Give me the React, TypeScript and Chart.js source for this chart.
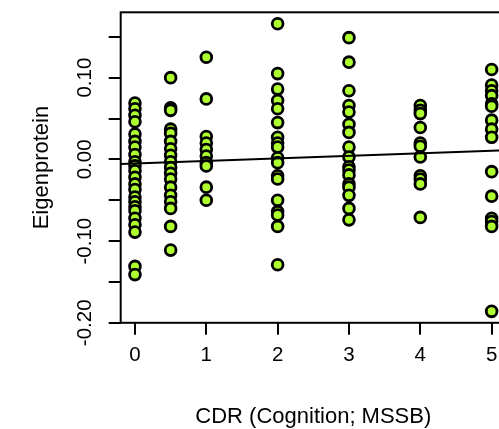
import { useEffect, useRef } from "react";
import { Chart, registerables } from "chart.js";

Chart.register(...registerables);

// CDR (Cognition; MSSB) levels
const cdrLevels = [0, 0.5, 1, 2, 3, 4, 5];

// Eigenprotein values per CDR level
const eigenCdr0 = [0.069, 0.062, 0.054, 0.046, 0.031, 0.022, 0.015, 0.006, -0.003, -0.008, -0.014, -0.022, -0.030, -0.037, -0.046, -0.052, -0.058, -0.063, -0.072, -0.080, -0.089, -0.131, -0.141];
const eigenCdr05 = [0.100, 0.063, 0.060, 0.037, 0.032, 0.022, 0.013, 0.005, -0.003, -0.010, -0.017, -0.024, -0.034, -0.044, -0.052, -0.060, -0.082, -0.111];
const eigenCdr1 = [0.125, 0.074, 0.028, 0.020, 0.012, 0.004, -0.004, -0.008, -0.034, -0.050];
const eigenCdr2 = [0.166, 0.105, 0.086, 0.072, 0.062, 0.045, 0.027, 0.020, 0.015, 0.002, -0.004, -0.020, -0.024, -0.050, -0.064, -0.068, -0.082, -0.129];
const eigenCdr3 = [0.149, 0.119, 0.084, 0.066, 0.058, 0.043, 0.033, 0.015, 0.003, -0.009, -0.013, -0.019, -0.030, -0.034, -0.044, -0.060, -0.074];
const eigenCdr4 = [0.066, 0.060, 0.056, 0.039, 0.020, 0.016, 0.003, -0.020, -0.024, -0.030, -0.071];
const eigenCdr5 = [0.110, 0.091, 0.084, 0.078, 0.068, 0.065, 0.048, 0.037, 0.027, -0.015, -0.045, -0.072, -0.076, -0.082, -0.186];

const eigenByLevel = [eigenCdr0, eigenCdr05, eigenCdr1, eigenCdr2, eigenCdr3, eigenCdr4, eigenCdr5];

// Fitted regression line (abline)
const fitIntercept = -0.005;
const fitSlope = 0.0031;

// Axis ranges and ticks
const xRange = [-0.2, 5.2];
const yRange = [-0.2, 0.18];
const xTickValues = [0, 1, 2, 3, 4, 5];
const xTickLabels = ["0", "1", "2", "3", "4", "5"];
const yTickValues = [-0.2, -0.15, -0.1, -0.05, 0, 0.05, 0.1, 0.15];
const yTickLabels = ["-0.20", "", "-0.10", "", "0.00", "", "0.10", ""];

const FONT = "'Liberation Sans', Arial, Helvetica, sans-serif";

const boxPlugin = {
  id: "rbox",
  afterDraw(chart: any) {
    const { ctx, chartArea } = chart;
    ctx.save();
    ctx.strokeStyle = "#000";
    ctx.lineWidth = 2;
    ctx.strokeRect(chartArea.left, chartArea.top, chartArea.right - chartArea.left, chartArea.bottom - chartArea.top);
    ctx.restore();
  },
};

export default function App() {
  const ref = useRef<HTMLCanvasElement | null>(null);

  useEffect(() => {
    if (!ref.current) return;
    const points: { x: number; y: number }[] = [];
    cdrLevels.forEach((lvl, i) => {
      eigenByLevel[i].forEach((v) => points.push({ x: lvl, y: v }));
    });
    const linePts = xRange.map((x) => ({ x, y: fitIntercept + fitSlope * x }));

    const chart = new Chart(ref.current, {
      type: "scatter",
      data: {
        datasets: [
          {
            type: "line",
            data: linePts,
            borderColor: "#000",
            borderWidth: 2,
            pointRadius: 0,
            showLine: true,
            fill: false,
          } as any,
          {
            data: points,
            pointRadius: 5.4,
            pointBorderWidth: 2.8,
            pointBackgroundColor: "#ADFF2F",
            pointBorderColor: "#000",
          },
        ],
      },
      plugins: [boxPlugin],
      options: {
        responsive: false,
        animation: false,
        devicePixelRatio: 1,
        layout: { padding: { left: 0, top: 10.8, right: 14.1, bottom: 0 } },
        plugins: { legend: { display: false }, tooltip: { enabled: false } },
        scales: {
          x: {
            type: "linear",
            min: xRange[0],
            max: xRange[1],
            afterFit: (s: any) => {
              s.height = 106.2;
            },
            afterBuildTicks: (s: any) => {
              s.ticks = xTickValues.map((v) => ({ value: v }));
            },
            grid: { display: true, drawOnChartArea: false, drawTicks: true, tickLength: 12, color: "#000", lineWidth: 2 },
            border: { display: false },
            ticks: {
              autoSkip: false,
              maxRotation: 0,
              minRotation: 0,
              padding: 8.7,
              color: "#000",
              font: { family: FONT, size: 20.5 },
              callback: (_v: any, i: number) => xTickLabels[i],
            },
            title: {
              display: true,
              text: "CDR (Cognition; MSSB)",
              color: "#000",
              font: { family: FONT, size: 22 },
              padding: { top: 0, bottom: -1 },
            },
          },
          y: {
            type: "linear",
            min: yRange[0],
            max: yRange[1],
            afterFit: (s: any) => {
              s.width = 120.7;
            },
            afterBuildTicks: (s: any) => {
              s.ticks = yTickValues.map((v) => ({ value: v }));
            },
            grid: { display: true, drawOnChartArea: false, drawTicks: true, tickLength: 12, color: "#000", lineWidth: 2 },
            border: { display: false },
            ticks: {
              autoSkip: false,
              minRotation: 90,
              maxRotation: 90,
              crossAlign: "center",
              padding: 0,
              color: "#000",
              font: { family: FONT, size: 20.5 },
              callback: (_v: any, i: number) => yTickLabels[i],
            },
            title: {
              display: true,
              text: "Eigenprotein",
              color: "#000",
              font: { family: FONT, size: 22 },
              padding: { top: 28.8, bottom: 0 },
            },
          },
        },
      },
    });
    return () => chart.destroy();
  }, []);

  return (
    <div style={{ position: "fixed", left: 0, top: 0, width: 499, height: 429, overflow: "hidden", background: "#fff" }}>
      <canvas ref={ref} width={520} height={429} style={{ display: "block" }} />
    </div>
  );
}
